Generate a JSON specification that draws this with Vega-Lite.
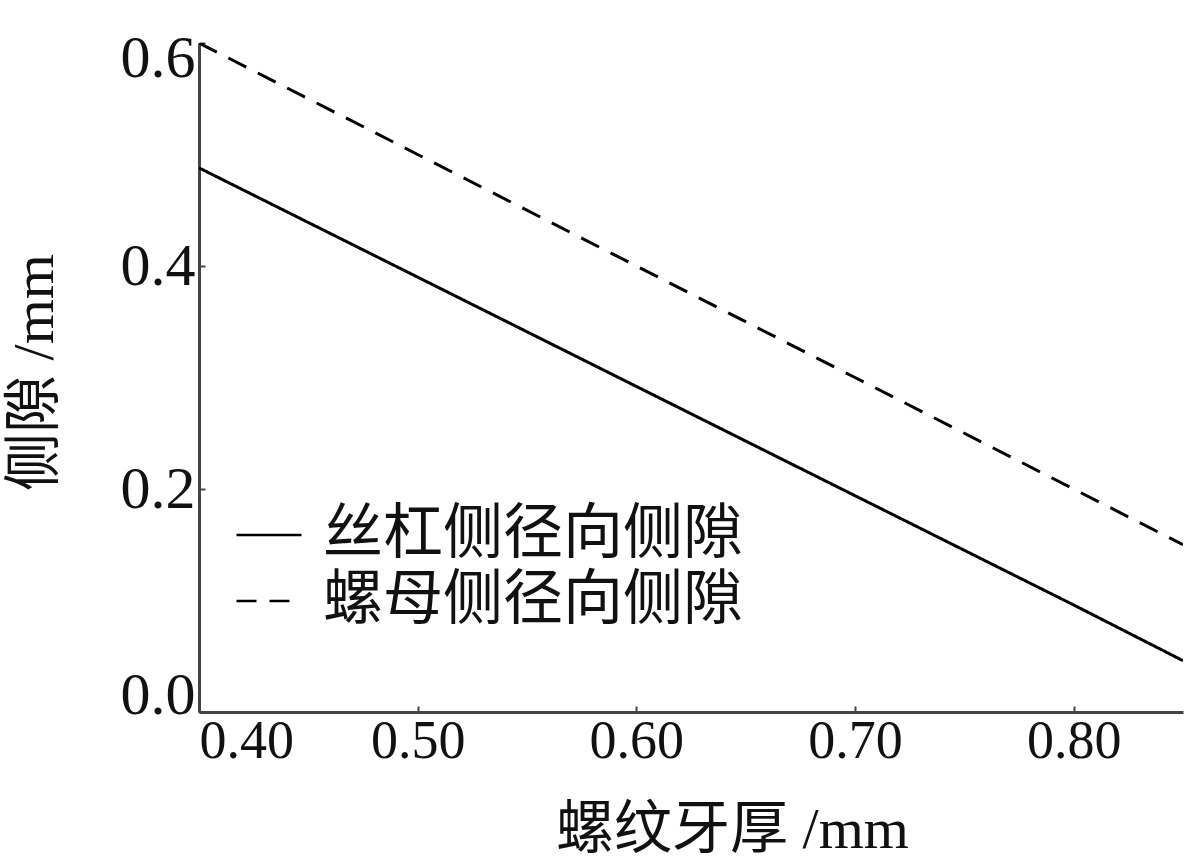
{
  "$schema": "https://vega.github.io/schema/vega-lite/v6.json",
  "width": 984,
  "height": 669,
  "autosize": {"type": "none"},
  "padding": {"left": 199, "top": 43, "right": 17, "bottom": 151},
  "background": "white",
  "config": {
    "view": {"stroke": null},
    "font": "Liberation Serif",
    "axis": {
      "grid": false,
      "domainColor": "#444",
      "domainWidth": 3,
      "tickColor": "#444",
      "tickWidth": 2,
      "tickSize": -6,
      "labelFont": "Liberation Serif",
      "labelColor": "#111",
      "titleFont": "Liberation Serif, Noto Sans CJK SC",
      "titleFontWeight": "normal",
      "titleColor": "#111",
      "labelFlush": true
    },
    "legend": {
      "orient": "none",
      "legendX": 36,
      "legendY": 458,
      "symbolType": "stroke",
      "symbolSize": 4225,
      "symbolStrokeWidth": 2.5,
      "symbolStrokeColor": "black",
      "labelFont": "Liberation Serif, Noto Sans CJK SC",
      "labelFontSize": 60,
      "labelColor": "#111",
      "labelLimit": 700,
      "labelOffset": 20,
      "rowPadding": 2,
      "title": null
    }
  },
  "data": {
    "values": [
      {"x": 0.40, "y": 0.488, "s": "丝杠侧径向侧隙"},
      {"x": 0.50, "y": 0.390, "s": "丝杠侧径向侧隙"},
      {"x": 0.60, "y": 0.292, "s": "丝杠侧径向侧隙"},
      {"x": 0.70, "y": 0.194, "s": "丝杠侧径向侧隙"},
      {"x": 0.80, "y": 0.096, "s": "丝杠侧径向侧隙"},
      {"x": 0.85, "y": 0.046, "s": "丝杠侧径向侧隙"},
      {"x": 0.40, "y": 0.600, "s": "螺母侧径向侧隙"},
      {"x": 0.50, "y": 0.500, "s": "螺母侧径向侧隙"},
      {"x": 0.60, "y": 0.400, "s": "螺母侧径向侧隙"},
      {"x": 0.70, "y": 0.300, "s": "螺母侧径向侧隙"},
      {"x": 0.80, "y": 0.200, "s": "螺母侧径向侧隙"},
      {"x": 0.85, "y": 0.150, "s": "螺母侧径向侧隙"}
    ]
  },
  "mark": {"type": "line", "color": "black", "strokeWidth": 3, "clip": true},
  "encoding": {
    "x": {
      "field": "x",
      "type": "quantitative",
      "scale": {"domain": [0.4, 0.85], "nice": false, "zero": false},
      "axis": {
        "values": [0.4, 0.5, 0.6, 0.7, 0.8],
        "format": ".2f",
        "labelFontSize": 54,
        "labelPadding": 8,
        "title": "螺纹牙厚 /mm",
        "titleFontSize": 58,
        "titleX": 533,
        "titleY": 118,
        "titleAlign": "center",
        "titleBaseline": "middle"
      }
    },
    "y": {
      "field": "y",
      "type": "quantitative",
      "scale": {"domain": [0, 0.6], "nice": false},
      "axis": {
        "values": [0, 0.2, 0.4, 0.6],
        "format": ".1f",
        "labelFontSize": 60,
        "labelPadding": 10,
        "labelFlushOffset": 14,
        "title": "侧隙 /mm",
        "titleFontSize": 58,
        "titleX": -164,
        "titleY": 329,
        "titleAngle": 270,
        "titleAlign": "center",
        "titleBaseline": "middle"
      }
    },
    "detail": {"field": "s"},
    "strokeDash": {
      "field": "s",
      "type": "nominal",
      "scale": {"domain": ["丝杠侧径向侧隙", "螺母侧径向侧隙"], "range": [[1, 0], [20, 13]]}
    }
  }
}
